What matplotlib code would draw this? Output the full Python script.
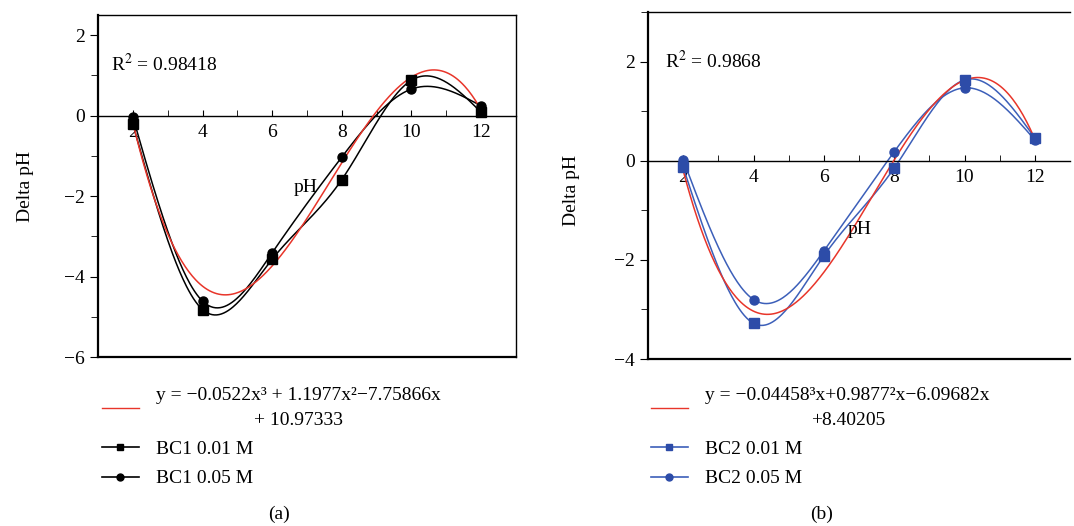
import numpy as np
import matplotlib.pyplot as plt
from matplotlib.lines import Line2D

plt.rcParams['font.family'] = ['Liberation Serif', 'DejaVu Serif']
plt.rcParams['mathtext.fontset'] = 'stix'

# measured points (pH vs delta pH)
ph = [2, 4, 6, 8, 10, 12]
bc1_001 = [-0.21, -4.82, -3.57, -1.59, 0.88, 0.08]
bc1_005 = [-0.03, -4.61, -3.41, -1.03, 0.66, 0.24]
bc2_001 = [-0.13, -3.28, -1.92, -0.15, 1.63, 0.46]
bc2_005 = [0.02, -2.80, -1.82, 0.18, 1.47, 0.42]

# cubic fits printed in the legends (x^3, x^2, x, const)
fit1 = [-0.0522, 1.1977, -7.75866, 10.97333]
fit2 = [-0.04458, 0.9877, -6.09682, 8.40205]
r2_1 = "0.98418"
r2_2 = "0.9868"

RED = '#e8352a'
BLUE_LINE = '#3c5fb9'
BLUE_MARK = '#2d4ca8'


def natural_spline(x, y, n=300):
    # plain natural cubic spline, like Origin's "spline" connect
    x = np.asarray(x, float)
    y = np.asarray(y, float)
    k = len(x)
    h = np.diff(x)
    A = np.zeros((k, k))
    b = np.zeros(k)
    A[0, 0] = A[-1, -1] = 1
    for i in range(1, k - 1):
        A[i, i - 1] = h[i - 1]
        A[i, i] = 2 * (h[i - 1] + h[i])
        A[i, i + 1] = h[i]
        b[i] = 6 * ((y[i + 1] - y[i]) / h[i] - (y[i] - y[i - 1]) / h[i - 1])
    M = np.linalg.solve(A, b)
    xs = np.linspace(x[0], x[-1], n)
    idx = np.clip(np.searchsorted(x, xs) - 1, 0, k - 2)
    x0, x1 = x[idx], x[idx + 1]
    hh = x1 - x0
    t0, t1 = x1 - xs, xs - x0
    ys = (M[idx] * t0 ** 3 + M[idx + 1] * t1 ** 3) / (6 * hh) \
        + (y[idx] / hh - M[idx] * hh / 6) * t0 \
        + (y[idx + 1] / hh - M[idx + 1] * hh / 6) * t1
    return xs, ys


def draw_panel(ax, s1, s2, fit, color_line, color_mark, ylim, r2, r2pos, phpos, right_spine):
    xs = np.linspace(2, 12, 300)
    ax.plot(xs, np.polyval(fit, xs), color=RED, lw=1.1, zorder=3)
    for s, m in [(s1, 's'), (s2, 'o')]:
        sx, sy = natural_spline(ph, s)
        ax.plot(sx, sy, color=color_line, lw=1.1, zorder=2)
        ax.plot(ph, s, m, color=color_mark, ms=6.5, zorder=4)

    ax.set_xlim(1, 13)
    ax.set_ylim(*ylim)
    ax.spines['bottom'].set_position(('data', 0))
    ax.axhline(ylim[0], color='k', lw=1.6, clip_on=False)
    ax.spines['right'].set_visible(right_spine)
    for sp in ax.spines.values():
        sp.set_linewidth(1.0)
    ax.spines['left'].set_linewidth(1.6)

    ax.set_xticks(range(2, 13, 2))
    ax.set_xticks(range(3, 13, 2), minor=True)
    ax.set_yticks(range(int(ylim[0]), int(ylim[1]) + 1, 2))
    ax.set_yticks(range(int(ylim[0]) + 1, int(ylim[1]) + 1, 2), minor=True)
    ax.tick_params(axis='x', which='both', direction='in', length=4, labelsize=14, pad=6)
    ax.tick_params(axis='y', which='major', direction='out', length=6, labelsize=14)
    ax.tick_params(axis='y', which='minor', direction='out', length=5)
    ax.yaxis.set_major_formatter(plt.FuncFormatter(lambda v, p: f"{int(v)}".replace('-', '\u2212')))

    ax.text(r2pos[0], r2pos[1], "R$^2$ = " + r2, fontsize=14, va='center', ha='left')
    ax.text(phpos[0], phpos[1], "pH", fontsize=14, va='center', ha='center')


fig = plt.figure(figsize=(10.74, 5.26), dpi=100)
ax1 = fig.add_axes([98 / 1074, 1 - 357 / 526, 418 / 1074, 342 / 526])
ax2 = fig.add_axes([648 / 1074, 1 - 359 / 526, 422 / 1074, 347 / 526])

draw_panel(ax1, bc1_001, bc1_005, fit1, 'black', 'black', (-6, 2.5),
           r2_1, (1.37, 1.27), (6.97, -1.79), True)
draw_panel(ax2, bc2_001, bc2_005, fit2, BLUE_LINE, BLUE_MARK, (-4, 3),
           r2_2, (1.48, 2.02), (7.02, -1.39), False)

fig.text(25 / 1074, 1 - 186 / 526, "Delta pH", rotation=90, fontsize=14, ha='center', va='center')
fig.text(571 / 1074, 1 - 190 / 526, "Delta pH", rotation=90, fontsize=14, ha='center', va='center')


def legend_for(x0, eq, name, lc, mc):
    handles = [Line2D([], [], color=RED, lw=1.0),
               Line2D([], [], color=lc, lw=1.2, marker='s', ms=5, mfc=mc, mec=mc),
               Line2D([], [], color=lc, lw=1.2, marker='o', ms=5, mfc=mc, mec=mc)]
    labels = [eq, name + " 0.01 M", name + " 0.05 M"]
    leg = fig.legend(handles, labels, loc='upper left', bbox_to_anchor=(x0 / 1074, 1 - 387 / 526),
                     frameon=False, fontsize=14, handlelength=1.9, handletextpad=0.9,
                     labelspacing=0.6, borderpad=0, borderaxespad=0)
    leg.get_texts()[0].set_multialignment('center')
    leg.get_texts()[0].set_linespacing(1.6)


legend_for(102, "y = \u22120.0522x\u00b3 + 1.1977x\u00b2\u22127.75866x\n+ 10.97333", "BC1", 'black', 'black')
legend_for(651, "y = \u22120.04458\u00b3x+0.9877\u00b2x\u22126.09682x\n+8.40205", "BC2", BLUE_LINE, BLUE_MARK)

fig.text(279 / 1074, 1 - 514 / 526, "(a)", fontsize=14, ha='center', va='center')
fig.text(822 / 1074, 1 - 514 / 526, "(b)", fontsize=14, ha='center', va='center')

fig.savefig("out.png", dpi=100)
